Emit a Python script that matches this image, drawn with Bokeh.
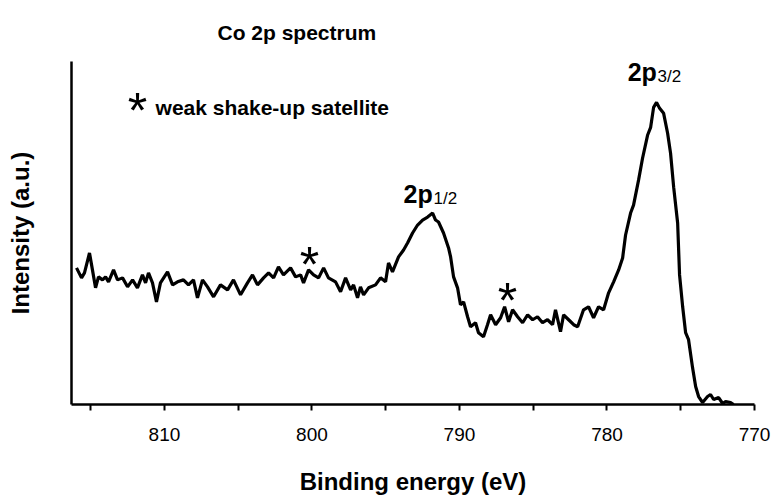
from bokeh.plotting import figure
from bokeh.models import Range1d, FixedTicker, ColumnDataSource
from bokeh.core.properties import value
from bokeh.embed import file_html
from bokeh.resources import INLINE

# ---- data ----
energy_ev = [
    815.96, 815.62, 815.42, 815.08, 814.88, 814.67, 814.47, 814.20, 813.99, 813.79,
    813.45, 813.18, 812.84, 812.50, 812.16, 811.83, 811.49, 811.28, 811.08, 810.81,
    810.54, 810.27, 809.79, 809.45, 809.11, 808.71, 808.37, 808.03, 807.76, 807.42,
    807.08, 806.67, 806.20, 805.72, 805.32, 804.84, 804.37, 804.03, 803.69, 803.28,
    802.94, 802.60, 802.27, 801.93, 801.45, 801.11, 800.77, 800.57, 800.23, 799.89,
    799.55, 799.21, 798.88, 798.40, 798.06, 797.72, 797.38, 797.18, 796.91, 796.71,
    796.50, 796.16, 795.69, 795.35, 795.01, 794.81, 794.54, 794.13, 793.79, 793.52,
    793.18, 792.84, 792.50, 792.16, 791.82, 791.62, 791.42, 791.08, 790.74, 790.60,
    790.40, 790.13, 789.93, 789.72, 789.45, 789.25, 788.91, 788.71, 788.37, 788.10,
    787.89, 787.55, 787.21, 786.94, 786.67, 786.40, 786.06, 785.72, 785.38, 785.04,
    784.71, 784.37, 784.03, 783.69, 783.49, 783.15, 782.94, 782.60, 782.26, 781.99,
    781.59, 781.25, 780.91, 780.57, 780.23, 779.89, 779.55, 779.21, 778.94, 778.74,
    778.40, 778.20, 777.86, 777.59, 777.25, 777.04, 776.84, 776.64, 776.43, 776.16,
    775.89, 775.69, 775.48, 775.21, 775.08, 774.87, 774.67, 774.47, 774.20, 773.99,
    773.79, 773.52, 773.18, 772.98, 772.77, 772.43, 772.16, 771.96, 771.62, 771.42,
]
intensity = [
    137, 127, 132, 152, 135, 117, 128, 125, 128, 123,
    135, 125, 127, 118, 125, 117, 130, 122, 132, 122,
    103, 122, 133, 120, 123, 125, 120, 125, 107, 125,
    118, 108, 120, 115, 125, 110, 122, 130, 120, 127,
    132, 127, 138, 130, 137, 128, 130, 122, 135, 130,
    127, 137, 127, 123, 113, 127, 115, 120, 107, 118,
    110, 117, 120, 127, 123, 142, 133, 148, 155, 162,
    172, 180, 185, 188, 192, 185, 183, 172, 157, 148,
    128, 117, 100, 103, 88, 78, 82, 72, 68, 80,
    90, 80, 87, 98, 83, 95, 88, 82, 90, 85,
    88, 82, 85, 80, 95, 73, 90, 85, 80, 78,
    95, 98, 87, 98, 95, 112, 123, 135, 147, 170,
    192, 200, 225, 247, 270, 278, 298, 303, 297, 292,
    272, 252, 218, 182, 130, 98, 72, 65, 37, 18,
    8, 2, 8, 10, 5, 7, 1, 3, 2, 0,
]

x_ticks = [815, 810, 805, 800, 795, 790, 785, 780, 775, 770]
x_tick_labels = ["", "810", "", "800", "", "790", "", "780", "", "770"]

title_text = "Co 2p spectrum"
x_label = "Binding energy (eV)"
y_label = "Intensity (a.u.)"

legend_text = "weak shake-up satellite"
legend_star_pos = (811.83, 294.5)
legend_text_pos = (810.60, 298)
satellite_ev = [800.16, 786.74]
satellite_y = [139.5, 103.5]
peak_names = ["2p", "2p"]
peak_subs = ["1/2", "3/2"]
peak_main_pos = [(793.79, 211), (778.60, 333)]
peak_sub_pos = [(791.76, 207), (776.57, 329)]

FONT = "Liberation Sans"

p = figure(width=775, height=497, output_backend="svg", toolbar_location=None,
           x_range=Range1d(816.3, 770), y_range=Range1d(0, 344),
           min_border_left=71, min_border_right=21, min_border_top=61,
           min_border_bottom=92, background_fill_color="white",
           border_fill_color="white")
p.outline_line_color = None
p.xgrid.visible = False
p.ygrid.visible = False

# title
p.title.text = title_text
p.title.text_font = FONT
p.title.text_font_size = "21px"
p.title.text_font_style = "bold"
p.title.text_color = "black"
p.title.align = "left"
p.title.offset = 146
p.title.standoff = 36

# spectrum
src = ColumnDataSource(dict(x=energy_ev, y=intensity))
p.line("x", "y", source=src, line_color="black", line_width=3.2)

# x axis
xa = p.xaxis[0]
xa.ticker = FixedTicker(ticks=x_ticks)
xa.major_label_overrides = {t: l for t, l in zip(x_ticks, x_tick_labels)}
xa.minor_tick_line_color = None
xa.major_tick_in = 0
xa.major_tick_out = 6
xa.major_tick_line_width = 2
xa.major_tick_line_color = "black"
xa.axis_line_width = 2.5
xa.axis_line_color = "black"
xa.major_label_text_font = FONT
xa.major_label_text_font_size = "19px"
xa.major_label_text_color = "black"
xa.major_label_standoff = 17
xa.axis_label = x_label
xa.axis_label_text_font = FONT
xa.axis_label_text_font_size = "24px"
xa.axis_label_text_font_style = "bold"
xa.axis_label_text_color = "black"
xa.axis_label_standoff = 24

# y axis
ya = p.yaxis[0]
ya.ticker = FixedTicker(ticks=[])
ya.major_tick_line_color = None
ya.minor_tick_line_color = None
ya.major_label_text_font_size = "0px"
ya.axis_line_width = 2.5
ya.axis_line_color = "black"
ya.axis_label = y_label
ya.axis_label_text_font = FONT
ya.axis_label_text_font_size = "24px"
ya.axis_label_text_font_style = "bold"
ya.axis_label_text_color = "black"
ya.axis_label_standoff = 38

# annotations
p.text(x=[legend_star_pos[0]], y=[legend_star_pos[1]], text=["*"],
       text_font=value(FONT), text_font_size="50px", text_align="center",
       text_baseline="alphabetic", text_color="black")
p.text(x=[legend_text_pos[0]], y=[legend_text_pos[1]], text=[legend_text],
       text_font=value(FONT), text_font_size="21px", text_font_style="bold",
       text_align="left", text_baseline="alphabetic", text_color="black")
p.text(x=satellite_ev, y=satellite_y, text=["*"] * len(satellite_ev),
       text_font=value(FONT), text_font_size="50px", text_align="center",
       text_baseline="alphabetic", text_color="black")
p.text(x=[q[0] for q in peak_main_pos], y=[q[1] for q in peak_main_pos],
       text=peak_names, text_font=value(FONT), text_font_size="25px",
       text_font_style="bold", text_align="left", text_baseline="alphabetic",
       text_color="black")
p.text(x=[q[0] for q in peak_sub_pos], y=[q[1] for q in peak_sub_pos],
       text=peak_subs, text_font=value(FONT), text_font_size="17px",
       text_align="left", text_baseline="alphabetic", text_color="black")

open("out.html", "w").write(file_html(p, INLINE))
